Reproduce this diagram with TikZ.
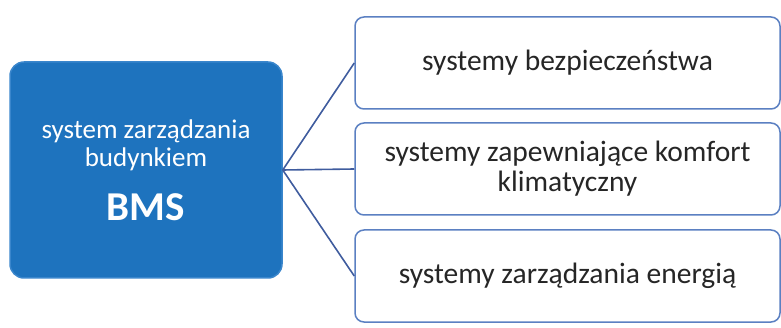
\documentclass[tikz,border=0pt]{standalone}
\usepackage{fontspec}
\setmainfont{Carlito}
\usepackage{tikz}
\usetikzlibrary{positioning}
\definecolor{bmsblue}{HTML}{1E73BE}
\definecolor{bmsedge}{HTML}{3A86CC}
\definecolor{boxedge}{HTML}{5B80C2}
\definecolor{linkblue}{HTML}{3F5C9E}
\definecolor{txtgray}{HTML}{262626}

\begin{document}
\begin{tikzpicture}[x=1pt, y=-1pt,
                    main/.style={rectangle, rounded corners=14pt, fill=bmsblue, draw=bmsedge,
                      line width=1.5pt, text=white, minimum width=272pt, minimum height=216pt,
                      align=center, font=\fontsize{27}{28}\selectfont},
                    sub/.style={rectangle, rounded corners=9pt, fill=white, draw=boxedge,
                      line width=1.5pt, text=txtgray, minimum width=425pt, minimum height=92pt,
                      align=center, font=\fontsize{29.5}{30}\selectfont},
                    link/.style={draw=linkblue, line width=1.6pt}]
      \useasboundingbox (0,0) rectangle (781,328);
      \node[main] (bms) at (146,170) {system zarządzania\\budynkiem\\[22pt]
                                      {\fontsize{41}{42}\selectfont\bfseries BMS}};
      \node[sub] (s1) at (567.5,63) {systemy bezpieczeństwa};
      \node[sub] (s2) at (567.5,169) {systemy zapewniające komfort\\klimatyczny};
      \node[sub] (s3) at (567.5,276) {systemy zarządzania energią};

      \foreach \y in {s1, s2, s3}
        \draw[link] (bms.east) -- (\y.west);
    \end{tikzpicture}
\end{document}
